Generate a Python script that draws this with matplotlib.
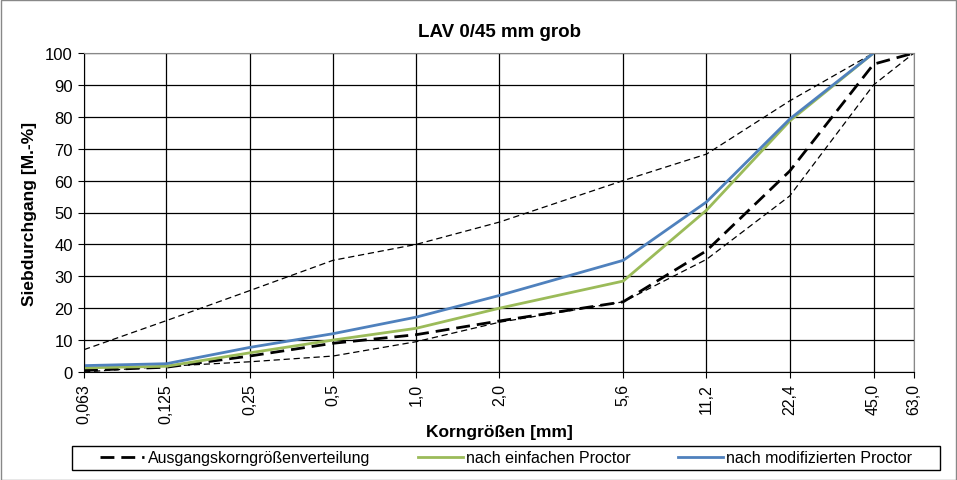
import matplotlib
matplotlib.use("Agg")
import matplotlib.pyplot as plt
from matplotlib.patches import Rectangle

plt.rcParams['font.family'] = ['Liberation Sans', 'DejaVu Sans']

sizes = [0.063, 0.125, 0.25, 0.5, 1.0, 2.0, 5.6, 11.2, 22.4, 45.0, 63.0]
tick_labels = ["0,063", "0,125", "0,25", "0,5", "1,0", "2,0", "5,6", "11,2", "22,4", "45,0", "63,0"]

upper_limit = [7.0, 16.1, 25.5, 35.0, 40.0, 47.0, 60.0, 68.3, 85.0, 100.0, 100.0]
lower_limit = [0.0, 1.8, 3.2, 5.0, 9.5, 15.6, 22.0, 35.3, 55.2, 90.0, 100.0]
ausgang = [0.5, 1.5, 5.0, 9.0, 11.7, 16.0, 22.0, 38.0, 63.0, 96.5, 100.0]
einfach = [1.3, 1.8, 6.0, 10.0, 13.7, 20.0, 28.5, 50.7, 78.7, 100.0]
modifiziert = [2.0, 2.6, 7.7, 12.0, 17.2, 24.0, 35.0, 53.3, 79.3, 100.0]

W, H = 957, 481
fig = plt.figure(figsize=(W / 100, H / 100), dpi=100)
ax = fig.add_axes([84 / W, 1 - 373 / H, (914 - 84) / W, (373 - 54) / H])

ax.plot(sizes, upper_limit, color='black', lw=0.9, ls=(0, (5, 3)))
ax.plot(sizes, lower_limit, color='black', lw=0.9, ls=(0, (5, 3)))
l1, = ax.plot(sizes, ausgang, color='black', lw=2.0, ls=(0, (5, 2.5)), label='Ausgangskorngrößenverteilung')
l2, = ax.plot(sizes[:len(einfach)], einfach, color='#9BBB59', lw=2.0, label='nach einfachen Proctor')
l3, = ax.plot(sizes[:len(modifiziert)], modifiziert, color='#4F81BD', lw=2.0, label='nach modifizierten Proctor')

ax.set_xscale('log')
ax.set_xlim(sizes[0], sizes[-1])
ax.set_ylim(0, 100)
ax.set_xticks(sizes)
ax.set_xticklabels(tick_labels, rotation=90, fontsize=11.5)
ax.minorticks_off()
ax.set_yticks(range(0, 101, 10))
ax.tick_params(axis='y', labelsize=12, direction='out', length=4, color='black', pad=4)
ax.tick_params(axis='x', direction='out', length=4, color='black', pad=4)
ax.grid(True, color='black', lw=0.9)
for s in ['top', 'right']:
    ax.spines[s].set_color('#888888')
for s in ['left', 'bottom']:
    ax.spines[s].set_color('black')

fig.text((84 + 914) / 2 / W, 1 - 33 / H, 'LAV 0/45 mm grob', fontsize=13.5, fontweight='bold',
         ha='center', va='center')
ax.set_ylabel('Siebdurchgang [M.-%]', fontsize=12.5, fontweight='bold', labelpad=6)
fig.text((84 + 914) / 2 / W, 1 - 432 / H, 'Korngrößen [mm]', fontsize=12.5, fontweight='bold',
         ha='center', va='center')

leg = fig.legend(handles=[l1, l2, l3], loc='center',
                 bbox_to_anchor=((72 + 940) / 2 / W, 1 - 459 / H),
                 ncol=3, fontsize=11.5, frameon=False,
                 handlelength=2.8, handletextpad=0.2, columnspacing=3.0, borderaxespad=0)

fig.patches.append(Rectangle((72 / W, 1 - 471 / H), (940 - 72) / W, 24 / H, transform=fig.transFigure,
                             fill=False, edgecolor='black', lw=1))
fig.patches.append(Rectangle((0.5 / W, 0.5 / H), 1 - 1.5 / W, 1 - 1.5 / H, transform=fig.transFigure,
                             fill=False, edgecolor='#888888', lw=1))

fig.savefig('out.png', dpi=100)
